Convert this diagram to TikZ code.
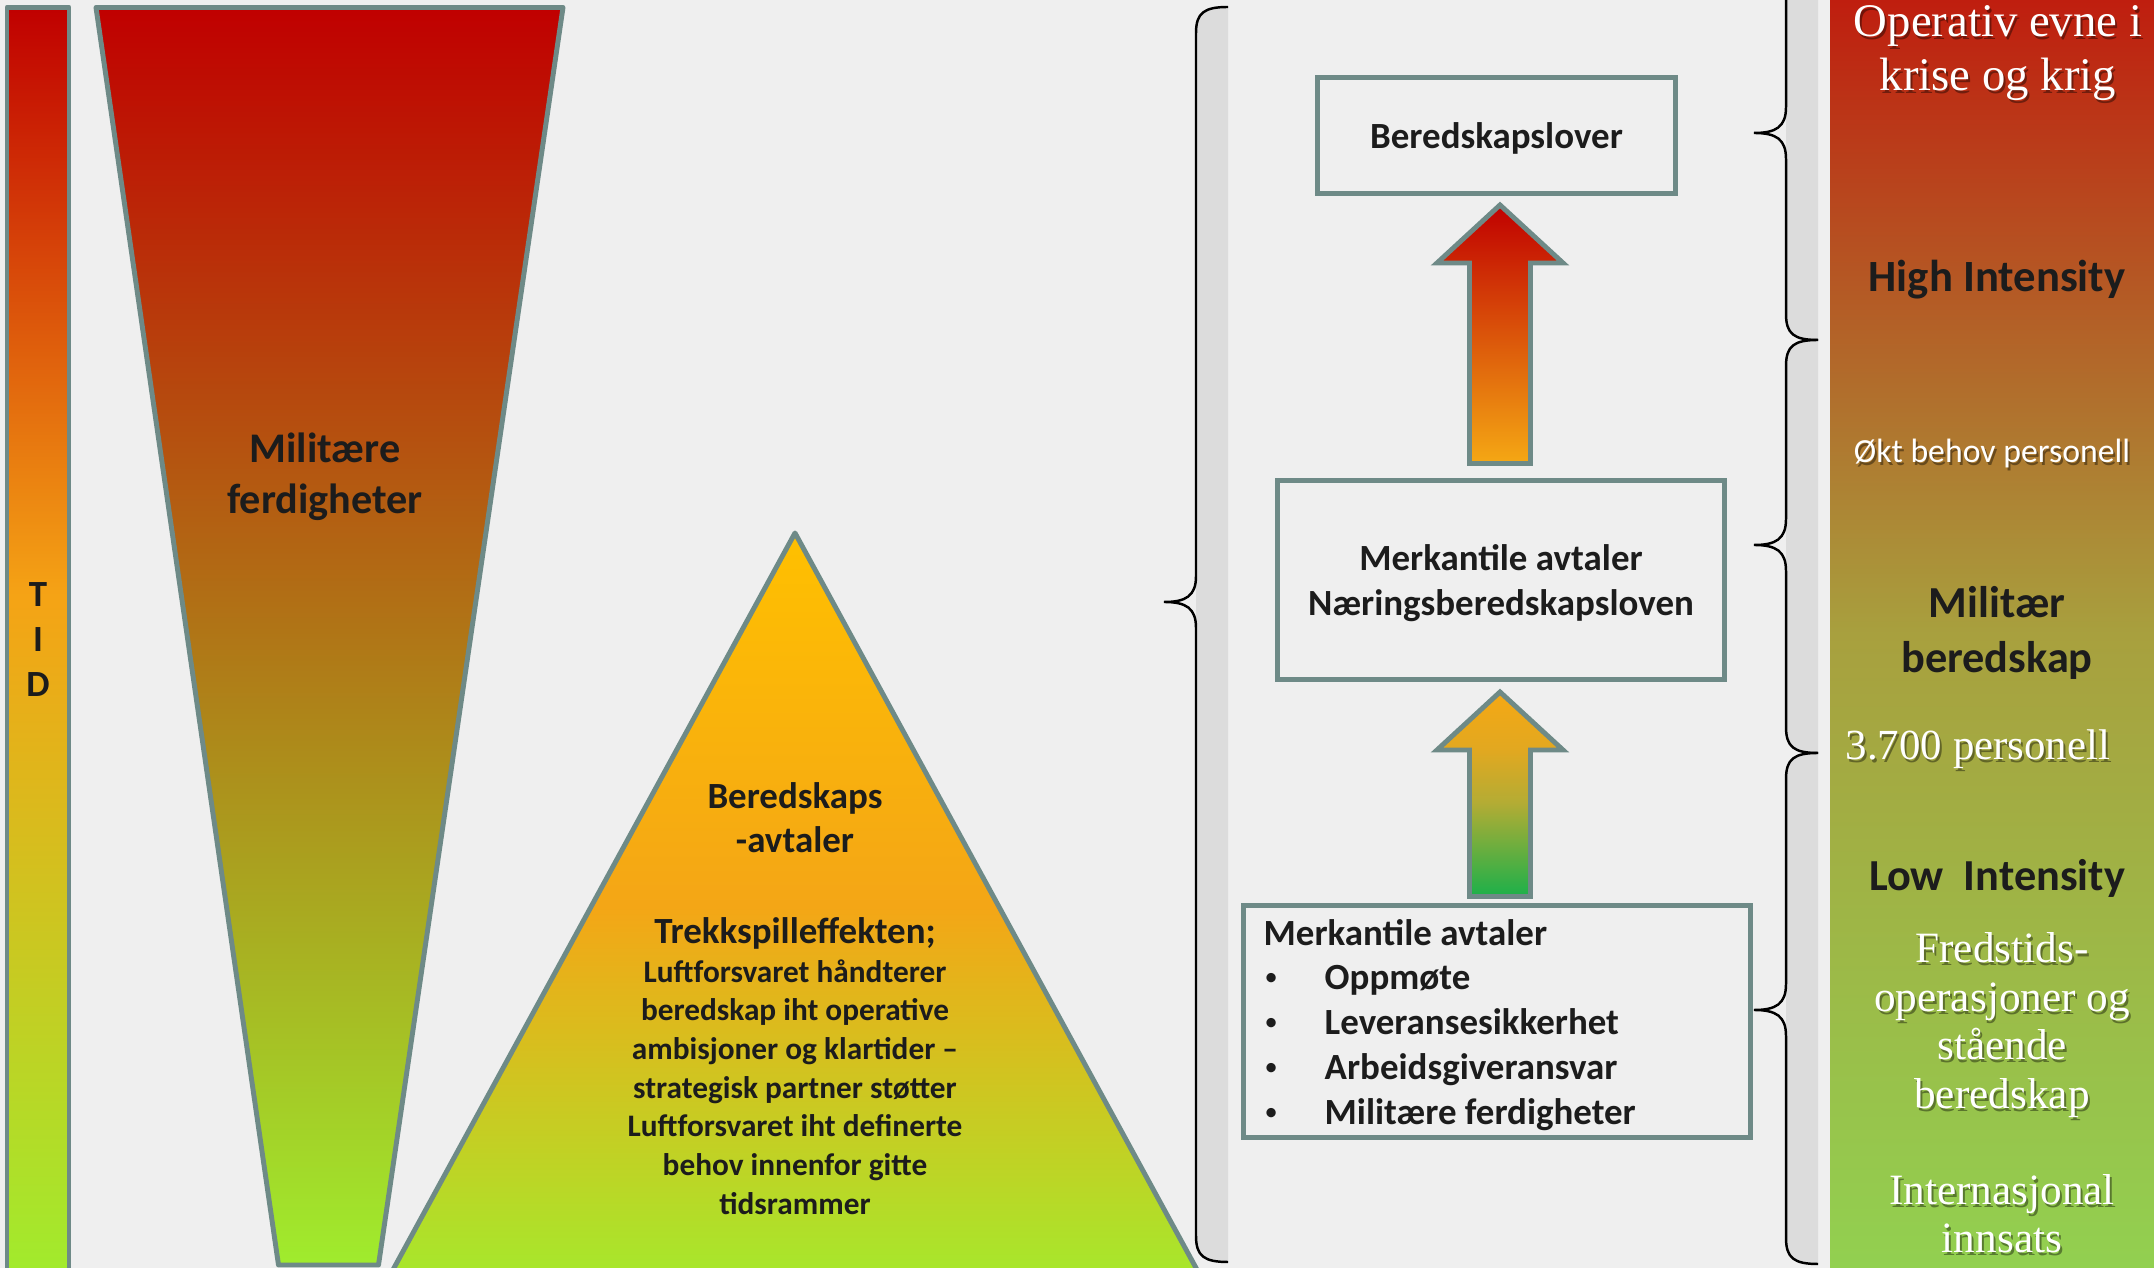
\documentclass[tikz,border=0pt]{standalone}
\usepackage{fontspec}
\setmainfont{Carlito}
\newfontfamily\serifw{Liberation Serif}
\usetikzlibrary{calc}

\definecolor{bgc}{RGB}{239,239,239}
\definecolor{bandc}{RGB}{220,220,220}
\definecolor{bordc}{RGB}{110,138,135}
\definecolor{txtc}{RGB}{28,28,28}
\definecolor{cRed}{RGB}{192,0,0}
\definecolor{cOrange}{RGB}{245,163,21}
\definecolor{cLime}{RGB}{160,236,45}
\definecolor{tGold}{RGB}{255,192,0}
\definecolor{tOrange}{RGB}{244,166,22}
\definecolor{tLime}{RGB}{166,232,44}
\definecolor{pTop}{RGB}{191,30,15}
\definecolor{pMid}{RGB}{168,160,62}
\definecolor{pBot}{RGB}{146,208,80}
\definecolor{aOrange}{RGB}{245,168,20}
\definecolor{aOrange2}{RGB}{226,168,32}
\definecolor{aOlive}{RGB}{180,172,52}
\definecolor{aGreen}{RGB}{28,176,74}

\pgfdeclareverticalshading{tidshade}{100bp}{color(0bp)=(cLime); color(25bp)=(cLime); color(52bp)=(cOrange); color(75bp)=(cRed); color(100bp)=(cRed)}
\pgfdeclareverticalshading{trishade}{100bp}{color(0bp)=(tLime); color(25bp)=(tLime); color(50bp)=(tOrange); color(75bp)=(tGold); color(100bp)=(tGold)}
\pgfdeclareverticalshading{panelshade}{100bp}{color(0bp)=(pBot); color(25bp)=(pBot); color(50bp)=(pMid); color(75bp)=(pTop); color(100bp)=(pTop)}
\pgfdeclareverticalshading{arrowtwoshade}{100bp}{color(0bp)=(aGreen); color(25bp)=(aGreen); color(48bp)=(aOlive); color(61bp)=(aOrange2); color(75bp)=(aOrange); color(100bp)=(aOrange)}
\pgfdeclareverticalshading{arrowoneshade}{100bp}{color(0bp)=(aOrange); color(25bp)=(aOrange); color(75bp)=(cRed); color(100bp)=(cRed)}

\tikzset{
  shapeline/.style={draw=bordc, line width=1.4pt, line join=round},
  arrowline/.style={draw=bordc, line width=1.4pt, line join=miter},
  boxnode/.style={draw=bordc, line width=1.4pt, fill=bgc, rectangle, inner sep=0pt,
    text=txtc, align=center, font=\bfseries\fontsize{10.5}{12.8}\selectfont},
  darkbold/.style={text=txtc, align=center, inner sep=0pt},
  listtext/.style={text=txtc, inner sep=0pt, anchor=base west, font=\bfseries\fontsize{10.5}{12.8}\selectfont},
  bullettext/.style={text=txtc, inner sep=0pt, anchor=base west, font=\fontsize{7.5}{9}\selectfont},
  whitetext/.style={text=white, align=center, inner sep=0pt},
  shadowtext/.style={text=black, opacity=0.4, align=center, inner sep=0pt},
  bracestyle/.style={draw=black, line width=0.7pt},
}

% brace: #1 x of vertical line, #2 top y, #3 tip y, #4 bottom y
\newcommand{\drawbrace}[4]{%
  \fill[bandc] ({#1+32},{#2}) .. controls ({#1+8},{#2}) and ({#1},{#2+6}) .. ({#1},{#2+26})
    -- ({#1},{#4-26}) .. controls ({#1},{#4-6}) and ({#1+8},{#4}) .. ({#1+32},{#4}) -- cycle;
  \draw[bracestyle] ({#1+32},{#2}) .. controls ({#1+8},{#2}) and ({#1},{#2+6}) .. ({#1},{#2+26})
    -- ({#1},{#3-26}) .. controls ({#1},{#3-6}) and ({#1-10},{#3}) .. ({#1-32},{#3})
    .. controls ({#1-10},{#3}) and ({#1},{#3+6}) .. ({#1},{#3+26})
    -- ({#1},{#4-26}) .. controls ({#1},{#4-6}) and ({#1+8},{#4}) .. ({#1+32},{#4});
}

% white text with soft shadow: #1 name, #2 position, #3 font, #4 text
\newcommand{\wtext}[4]{%
  \node[shadowtext, font=#3] (#1s) at ($(#2)+(2,3)$) {#4};
  \node[whitetext, font=#3] (#1) at (#2) {#4};
}

% block arrow: #1 bottom coordinate, #2 tip coordinate, #3 shading
\newcommand{\blockarrow}[3]{%
  \shadedraw[shading=#3, arrowline]
    ($(#1)+(-30.5,0)$) -- ($(#2)+(-30.5,58)$) -- ($(#2)+(-63,58)$) -- (#2)
    -- ($(#2)+(63,58)$) -- ($(#2)+(30.5,58)$) -- ($(#1)+(30.5,0)$) -- cycle;
}

\begin{document}
\begin{tikzpicture}[x=0.01cm, y=-0.01cm]
\useasboundingbox (0,0) rectangle (2154,1268);
\fill[bgc] (0,0) rectangle (2154,1268);
\clip (0,0) rectangle (2154,1268);

% ---------- left: time bar ----------
\shadedraw[shading=tidshade, shapeline] (7,7.5) rectangle (69,1285);
\node[darkbold, font=\bfseries\fontsize{10.5}{12.8}\selectfont] (tid) at (38,640) {T\\I\\D};

% ---------- funnel ----------
\shadedraw[top color=cRed, bottom color=cLime, shapeline]
  (96,7.5) -- (563,7.5) -- (378.5,1265) -- (278.5,1265) -- cycle;
\node[darkbold, font=\bfseries\fontsize{12}{14.5}\selectfont] (mf) at (325,477) {Militære\\ferdigheter};

% ---------- triangle ----------
\shadedraw[shading=trishade, shapeline] (795,533) -- (1202.6,1280) -- (387.4,1280) -- cycle;
\node[darkbold, font=\bfseries\fontsize{10.5}{12.5}\selectfont] (tri1) at (795,818) {Beredskaps\\-avtaler};
\node[darkbold, font=\bfseries\fontsize{10.5}{12.5}\selectfont] (tri2) at (795,933) {Trekkspilleffekten;};
\node[darkbold, font=\bfseries\fontsize{8.9}{11}\selectfont] (tri3) at (795,1087)
  {Luftforsvaret håndterer\\beredskap iht operative\\ambisjoner og klartider –\\strategisk partner støtter\\Luftforsvaret iht definerte\\behov innenfor gitte\\tidsrammer};

% ---------- braces ----------
\drawbrace{1196}{7}{602}{1262}
\drawbrace{1786}{-74}{133}{340}
\drawbrace{1786}{340}{545}{753}
\drawbrace{1786}{753}{1010}{1264}

% ---------- boxes ----------
\node[boxnode, minimum width=3.58cm, minimum height=1.16cm] (b1) at (1496.5,135.5) {};
\node[darkbold, font=\bfseries\fontsize{10.5}{12.8}\selectfont] (b1t) at (1496.5,138) {Beredskapslover};
\node[boxnode, minimum width=4.47cm, minimum height=1.99cm] (b2) at (1501,580) {};
\node[darkbold, font=\bfseries\fontsize{10.5}{12.8}\selectfont] (b2t) at (1501,583) {Merkantile avtaler\\Næringsberedskapsloven};
\node[boxnode, minimum width=5.07cm, minimum height=2.32cm] (b3) at (1497,1021.5) {};

\node[listtext] (m0) at (1263,946) {Merkantile avtaler};
\node[bullettext] (m1b) at (1264,986) {•};
\node[listtext] (m1) at (1324,990) {Oppmøte};
\node[bullettext] (m2b) at (1264,1031) {•};
\node[listtext] (m2) at (1324,1035) {Leveransesikkerhet};
\node[bullettext] (m3b) at (1264,1076) {•};
\node[listtext] (m3) at (1324,1080) {Arbeidsgiveransvar};
\node[bullettext] (m4b) at (1264,1121) {•};
\node[listtext] (m4) at (1324,1125) {Militære ferdigheter};

% ---------- block arrows ----------
\coordinate (a1bot) at (1500,463.5);
\coordinate (a1tip) at (1500,205);
\blockarrow{a1bot}{a1tip}{arrowoneshade}
\coordinate (a2bot) at (1500,896.5);
\coordinate (a2tip) at (1500,692);
\blockarrow{a2bot}{a2tip}{arrowtwoshade}

% ---------- right panel ----------
\shade[shading=panelshade] (1830,0) rectangle (2154,1268);
\wtext{op}{1998,53}{\serifw\fontsize{13.3}{15.4}\selectfont}{Operativ evne i\\krise og krig}
\node[darkbold, font=\bfseries\fontsize{12.7}{15}\selectfont] (hi) at (1997,280) {High Intensity};
\wtext{okt}{1992,454}{\fontsize{9.6}{11.5}\selectfont}{Økt behov personell}
\node[darkbold, font=\bfseries\fontsize{12.6}{15.6}\selectfont] (mb) at (1997,633) {Militær\\beredskap};
\wtext{pers}{1978,749}{\serifw\fontsize{12.2}{14}\selectfont}{3.700 personell}
\node[darkbold, font=\bfseries\fontsize{12.6}{15}\selectfont] (lo) at (1997,878) {Low~~Intensity};
\wtext{fred}{2002,1025}{\serifw\fontsize{12.3}{13.8}\selectfont}{Fredstids-\\operasjoner og\\stående\\beredskap}
\wtext{intl}{2002,1214}{\serifw\fontsize{12.3}{13.7}\selectfont}{Internasjonal\\innsats}
\end{tikzpicture}
\end{document}
